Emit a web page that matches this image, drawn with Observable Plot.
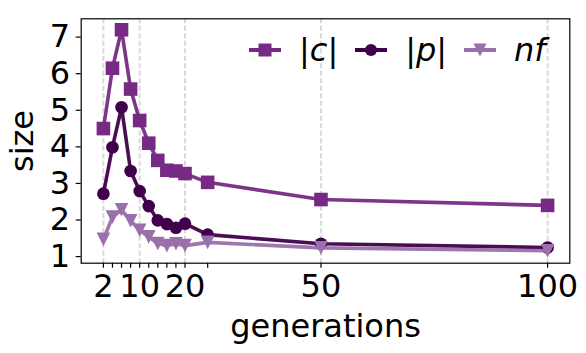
<!DOCTYPE html>
<html><head><meta charset="utf-8">
<script src="https://cdn.jsdelivr.net/npm/d3@7"></script>
<script src="https://cdn.jsdelivr.net/npm/@observablehq/plot@0.6"></script>
<style>
body{margin:0;background:#fff;}
#wrap{position:relative;width:586px;height:353px;font-family:"DejaVu Sans";}
#legend{position:absolute;left:248px;top:32px;display:flex;align-items:center;font-size:32px;line-height:36px;color:#000;}
#legend .item{display:flex;align-items:center;}
#legend svg{display:block;margin-right:17px;}
#legend span{margin-right:16px;white-space:nowrap;}
#legend i{font-style:oblique;}
</style></head><body><div id="wrap"></div>
<script>
const generations = [2,4,6,8,10,12,14,16,18,20,25,50,100];
const cSize  = [4.50,6.15,7.20,5.58,4.72,4.10,3.63,3.36,3.34,3.27,3.03,2.56,2.40];
const pSize  = [2.72,3.99,5.08,3.34,2.79,2.38,1.99,1.89,1.79,1.90,1.60,1.35,1.25];
const nfSize = [1.47,2.08,2.28,1.98,1.72,1.54,1.36,1.30,1.35,1.30,1.39,1.24,1.16];
const seriesNames  = ["|c|","|p|","nf"];
const seriesColors = ["#762a83","#40004b","#9970ab"];
const labeledTicks = [2,10,20,50,100];
const yTicks = [1,2,3,4,5,6,7];

const symSquare = {draw(ctx,size){const r=Math.sqrt(size/Math.PI);ctx.rect(-r,-r,2*r,2*r);}};
const symCircle = {draw(ctx,size){const r=Math.sqrt(size/Math.PI)*0.93;ctx.moveTo(r,0);ctx.arc(0,0,r,0,2*Math.PI);}};
const symTriDown = {draw(ctx,size){const r=Math.sqrt(size/Math.PI);ctx.moveTo(0,r);ctx.lineTo(-r,-r);ctx.lineTo(r,-r);ctx.closePath();}};
const seriesSymbols = [symSquare, symCircle, symTriDown];
const seriesValues = [cSize, pSize, nfSize];

const table = seriesNames.map((name,i)=>generations.map((g,j)=>({series:name, generation:g, size:seriesValues[i][j]})));

const seriesMarks = table.flatMap((rows,i)=>[
  Plot.line(rows,{x:"generation",y:"size",stroke:seriesColors[i],strokeWidth:3.6,strokeOpacity:0.95}),
  Plot.dot(rows,{x:"generation",y:"size",fill:seriesColors[i],stroke:"none",r:6.8,symbol:seriesSymbols[i]})
]);

const chart = Plot.plot({
  width:586, height:353,
  marginLeft:80.7, marginRight:16.7, marginTop:18.3, marginBottom:90.3,
  style:{fontSize:"32px", fontFamily:"DejaVu Sans", color:"#000", background:"#fff", overflow:"visible"},
  x:{domain:[-2.9,104.9]},
  y:{domain:[0.82,7.5]},
  marks:[
    Plot.ruleX(labeledTicks,{stroke:"#d8d8d8",strokeWidth:2,strokeDasharray:"5,2.5"}),
    Plot.axisX({ticks:generations, tickFormat:d=>labeledTicks.includes(d)?String(d):"", tickSize:5, tickPadding:6, strokeWidth:1.2, fontSize:32, label:"generations", labelAnchor:"center", labelOffset:74, labelArrow:"none"}),
    Plot.axisY({ticks:yTicks, tickFormat:d=>String(d), tickSize:5, tickPadding:6, strokeWidth:1.2, fontSize:32, label:"size", labelAnchor:"center", labelOffset:71, labelArrow:"none"}),
    ...seriesMarks,
    Plot.frame({stroke:"#000",strokeWidth:1.2})
  ]
});
const wrap = document.getElementById("wrap");
wrap.appendChild(chart);

const legend = document.createElement("div");
legend.id = "legend";
const ns = "http://www.w3.org/2000/svg";
seriesNames.forEach((name,i)=>{
  const item = document.createElement("div"); item.className="item";
  const svg = document.createElementNS(ns,"svg");
  svg.setAttribute("width","34"); svg.setAttribute("height","16");
  const line = document.createElementNS(ns,"line");
  line.setAttribute("x1","1"); line.setAttribute("x2","33"); line.setAttribute("y1","8"); line.setAttribute("y2","8");
  line.setAttribute("stroke",seriesColors[i]); line.setAttribute("stroke-width","4");
  svg.appendChild(line);
  const p = d3.path(); seriesSymbols[i].draw(p, Math.PI*6.5*6.5);
  const path = document.createElementNS(ns,"path");
  path.setAttribute("d", p.toString()); path.setAttribute("transform","translate(17,8)");
  path.setAttribute("fill", seriesColors[i]);
  svg.appendChild(path);
  const span = document.createElement("span");
  span.innerHTML = name.replace(/[a-z]+/g, m=>"<i>"+m+"</i>");
  item.appendChild(svg); item.appendChild(span);
  legend.appendChild(item);
});
wrap.appendChild(legend);
</script></body></html>
